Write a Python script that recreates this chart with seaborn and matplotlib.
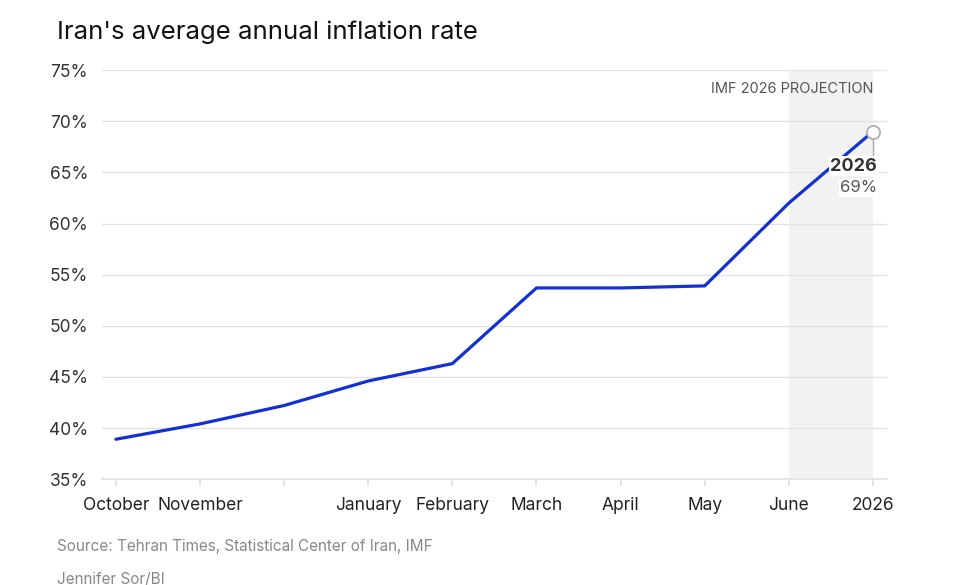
import numpy as np
import pandas as pd
import matplotlib.pyplot as plt
import seaborn as sns

# data
months = ['October', 'November', '', 'January', 'February', 'March',
          'April', 'May', 'June', '2026']
inflation = [38.9, 40.4, 42.2, 44.6, 46.3, 53.7, 53.7, 53.9, 62.0, 69.0]
y_ticks = [35, 40, 45, 50, 55, 60, 65, 70, 75]

df = pd.DataFrame({'pos': np.arange(len(months)), 'rate': inflation})

sns.set_theme(style="white")
plt.rcParams['font.family'] = ['Inter', 'DejaVu Sans']

fig = plt.figure(figsize=(9.8, 5.85), dpi=100)
ax = fig.add_axes([0.104, 0.181, 0.801, 0.699])

line_col = '#1231d4'
grid_col = '#e3e3e3'

# projection band
ax.axvspan(8, 9, color='#f2f2f2', zorder=0, lw=0)

sns.lineplot(data=df, x='pos', y='rate', color=line_col, linewidth=2.3,
             ax=ax, zorder=3)

ax.set_xlim(-0.166, 9.166)
ax.set_ylim(35, 75)
ax.set_yticks(y_ticks)
ax.set_yticklabels([f'{v}%' for v in y_ticks])
ax.set_xticks(df['pos'])
ax.set_xticklabels(months)
ax.yaxis.grid(True, color=grid_col, linewidth=1)
ax.set_axisbelow(True)
for side in ['top', 'right', 'left']:
    ax.spines[side].set_visible(False)
ax.spines['bottom'].set_color(grid_col)
ax.tick_params(axis='x', length=5, color=grid_col, labelsize=12.5,
               labelcolor='#222222', pad=8, bottom=True)
ax.tick_params(axis='y', length=0, labelsize=12.5, labelcolor='#333333', pad=10)
ax.set_xlabel('')
ax.set_ylabel('')

# last point annotation
last = df.iloc[-1]
ax.plot([last['pos'], last['pos']], [last['rate'], 66.7], color='#aaaaaa',
        lw=1, zorder=4)
ax.scatter([last['pos']], [last['rate']], s=90, facecolor='white',
           edgecolor='#aaaaaa', linewidth=1.2, zorder=5)
ax.text(last['pos'] + 0.05, 65.6, '2026', ha='right', va='center',
        fontsize=13, fontweight='bold', color='#333333', zorder=6,
        bbox=dict(facecolor='white', edgecolor='none', pad=1))
ax.text(last['pos'] + 0.05, 63.5, f"{last['rate']:.0f}%", ha='right',
        va='center', fontsize=12, color='#555555', zorder=6,
        bbox=dict(facecolor='white', edgecolor='none', pad=1))
ax.text(9, 73.2, 'IMF 2026 PROJECTION', ha='right', va='center',
        fontsize=10.5, color='#555555')

fig.text(0.058, 0.945, "Iran's average annual inflation rate", fontsize=18.5,
         color='#111111', ha='left', va='center')
fig.text(0.058, 0.065, 'Source: Tehran Times, Statistical Center of Iran, IMF',
         fontsize=11, color='#888888', ha='left', va='center')
fig.text(0.058, 0.01, 'Jennifer Sor/BI', fontsize=11, color='#888888',
         ha='left', va='center')

fig.savefig('out.png', dpi=100)
